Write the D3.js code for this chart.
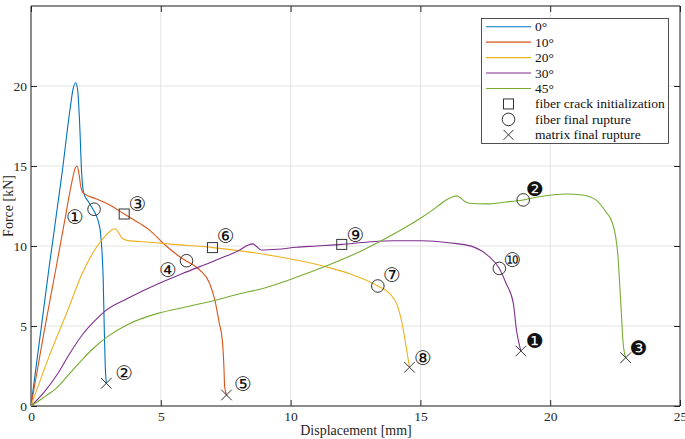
<!DOCTYPE html>
<html><head><meta charset="utf-8">
<script src="https://cdn.jsdelivr.net/npm/d3@7"></script>
<style>body{margin:0;background:#fff}svg{display:block}</style>
</head><body><svg id="c" width="685" height="439"></svg>
<script>
const seriesNames = ["0°","10°","20°","30°","45°"];
const seriesColors = ["#0072BD","#D95319","#EDB120","#7E2F8E","#77AC30"];
const s0 = [[0,0],[0.7,8.7],[1.2,14.6],[1.5,18.5],[1.62,19.8],[1.72,20.2],[1.8,19.7],[1.87,17.8],[1.95,14.6],[2.03,13.3],[2.2,12.8],[2.35,12.4],[2.5,11.95],[2.6,11.5],[2.68,10.8],[2.74,9.5],[2.78,8.0],[2.82,5.0],[2.86,2.5],[2.9,1.42]];
const s10 = [[0,0],[0.5,4.6],[0.95,8.5],[1.3,11.6],[1.55,13.8],[1.7,14.85],[1.77,15.0],[1.84,14.6],[1.92,13.7],[2.02,13.3],[2.5,12.95],[3.0,12.6],[3.59,12.0],[4.2,11.4],[4.6,10.95],[5.09,10.17],[5.73,9.33],[6.0,9.05],[6.5,8.5],[6.88,7.67],[7.08,6.63],[7.25,5.2],[7.37,4.1],[7.43,2.5],[7.46,1.2],[7.53,0.69]];
const s20 = [[0,0],[0.65,2.9],[1.42,6.0],[1.95,8.2],[2.45,9.75],[2.9,10.7],[3.12,11.02],[3.24,11.08],[3.35,10.9],[3.5,10.5],[3.7,10.35],[4.58,10.23],[5.5,10.1],[7.0,9.9],[8.5,9.6],[9.96,9.2],[11.37,8.7],[12.3,8.25],[13.36,7.5],[13.81,7.04],[14.13,6.21],[14.32,4.96],[14.45,3.71],[14.58,2.42]];
const s30 = [[0,0],[0.5,0.85],[1.0,1.95],[1.5,3.3],[2.0,4.5],[2.5,5.4],[2.83,5.9],[3.73,6.73],[4.88,7.63],[5.86,8.29],[7.14,9.13],[8.04,9.75],[8.35,10.05],[8.55,10.13],[8.7,9.95],[8.87,9.75],[9.5,9.8],[10.22,9.92],[11.0,10.0],[11.97,10.1],[13,10.25],[14,10.33],[15,10.33],[15.74,10.27],[16.4,10.15],[17.01,9.96],[17.35,9.7],[17.65,9.33],[18.04,8.6],[18.3,7.67],[18.58,6.42],[18.7,4.75],[18.8,3.9],[18.87,3.44]];
const s45 = [[0,0],[0.5,0.55],[1.0,1.15],[1.5,2.05],[2.0,2.95],[2.5,3.75],[3.0,4.4],[3.73,5.1],[4.88,5.79],[6.0,6.2],[7.14,6.63],[8.0,7.0],[9.0,7.38],[9.58,7.67],[10.4,8.15],[11.37,8.75],[12.4,9.45],[13.42,10.27],[14.3,11.05],[15.09,11.83],[15.6,12.4],[15.99,12.88],[16.25,13.08],[16.4,13.13],[16.55,13.0],[16.7,12.8],[16.88,12.67],[17.53,12.63],[18.3,12.75],[18.96,12.88],[19.58,13.08],[20.6,13.25],[21.24,13.19],[21.76,12.88],[22.14,12.14],[22.4,11.42],[22.6,9.54],[22.72,6.42],[22.81,3.92],[22.91,3.02]];
const seriesData = [s0,s10,s20,s30,s45];
const squares = [[3.59,12.0],[6.99,9.9],[11.97,10.1]];
const circles = [[2.43,12.3],[5.99,9.08],[13.36,7.5],[18.04,8.6],[18.96,12.88]];
const crosses = [[2.9,1.42],[7.53,0.69],[14.58,2.42],[18.87,3.44],[22.91,3.02]];
const noteLabels = ["①","②","③","④","⑤","⑥","⑦","⑧","⑨","⑩","❶","❷","❸"];
const notePos = [[1.69,11.8],[3.59,2.04],[4.1,12.6],[5.28,8.5],[8.17,1.35],[7.5,10.6],[13.9,8.2],[15.1,3.0],[12.5,10.7],[18.55,9.1],[19.4,4.07],[19.41,13.56],[23.4,3.64]];
const xTicks = [0,5,10,15,20,25];
const yTicks = [0,5,10,15,20];
const legendMarkers = ["fiber crack initialization","fiber final rupture","matrix final rupture"];

const SERIF = '"Liberation Serif", "Times New Roman", serif';
const svg = d3.select("#c");
const x = d3.scaleLinear().domain([0,25]).range([31,680]);
const y = d3.scaleLinear().domain([0,25]).range([406,6]);

// grid
svg.append("g").selectAll("line").data(xTicks).join("line")
  .attr("x1",d=>x(d)).attr("x2",d=>x(d)).attr("y1",y(0)).attr("y2",y(25))
  .attr("stroke","#e3e3e3").attr("stroke-width",1);
svg.append("g").selectAll("line").data(yTicks.concat([25])).join("line")
  .attr("y1",d=>y(d)).attr("y2",d=>y(d)).attr("x1",x(0)).attr("x2",x(25))
  .attr("stroke","#e3e3e3").attr("stroke-width",1);

// axes
const tl = 6;
const gx = svg.append("g").attr("transform",`translate(0,${y(0)})`)
  .call(d3.axisBottom(x).tickValues(xTicks).tickSizeInner(-tl).tickSizeOuter(0).tickPadding(5));
const gy = svg.append("g").attr("transform",`translate(${x(0)},0)`)
  .call(d3.axisLeft(y).tickValues(yTicks).tickSizeInner(-tl).tickSizeOuter(0).tickPadding(4));
const gxt = svg.append("g").attr("transform",`translate(0,${y(25)})`)
  .call(d3.axisTop(x).tickValues(xTicks).tickSizeInner(-tl).tickSizeOuter(0).tickFormat(""));
const gyr = svg.append("g").attr("transform",`translate(${x(25)},0)`)
  .call(d3.axisRight(y).tickValues(yTicks).tickSizeInner(-tl).tickSizeOuter(0).tickFormat(""));
[gx,gy,gxt,gyr].forEach(g=>{
  g.attr("font-family",null).attr("font-size",null);
  g.select(".domain").attr("stroke","#262626").attr("stroke-width",1);
  g.selectAll(".tick line").attr("stroke","#262626");
  g.selectAll("text").style("font-family",SERIF).style("font-size","13.5px").attr("fill","#262626");
});
gx.select(".domain").attr("d",`M${x(0)},0H${x(25)}`);
gy.select(".domain").attr("d",`M0,${y(0)}V${y(25)}`);
gxt.select(".domain").attr("d",`M${x(0)},0H${x(25)}`);
gyr.select(".domain").attr("d",`M0,${y(0)}V${y(25)}`);

// axis labels
svg.append("text").attr("x",356).attr("y",435).attr("text-anchor","middle")
  .style("font-family",SERIF).style("font-size","14px").attr("fill","#262626").text("Displacement [mm]");
svg.append("text").attr("transform",`translate(13,${y(12.5)}) rotate(-90)`).attr("text-anchor","middle")
  .style("font-family",SERIF).style("font-size","14px").attr("fill","#262626").text("Force [kN]");

// lines
const line = d3.line().x(d=>x(d[0])).y(d=>y(d[1])).curve(d3.curveMonotoneX);
svg.append("g").selectAll("path").data(seriesData).join("path")
  .attr("d",d=>line(d)).attr("fill","none")
  .attr("stroke",(d,i)=>seriesColors[i]).attr("stroke-width",1.1);

// markers
const mk = "#333";
svg.append("g").selectAll("rect").data(squares).join("rect")
  .attr("x",d=>x(d[0])-5).attr("y",d=>y(d[1])-5).attr("width",10).attr("height",10)
  .attr("fill","none").attr("stroke",mk).attr("stroke-width",1);
svg.append("g").selectAll("circle").data(circles).join("circle")
  .attr("cx",d=>x(d[0])).attr("cy",d=>y(d[1])).attr("r",6.3)
  .attr("fill","none").attr("stroke",mk).attr("stroke-width",1);
svg.append("g").selectAll("path").data(crosses).join("path")
  .attr("d",d=>{const cx=x(d[0]),cy=y(d[1]),r=5.3;return `M${cx-r},${cy-r}L${cx+r},${cy+r}M${cx-r},${cy+r}L${cx+r},${cy-r}`;})
  .attr("stroke",mk).attr("stroke-width",1).attr("fill","none");

// annotations
svg.append("g").selectAll("text").data(noteLabels).join("text")
  .attr("x",(d,i)=>x(notePos[i][0])).attr("y",(d,i)=>y(notePos[i][1]))
  .attr("text-anchor","middle").attr("dominant-baseline","central")
  .style("font-family","'DejaVu Sans', sans-serif").style("font-size","20px").attr("fill","#111")
  .text(d=>d);

// legend
const lg = svg.append("g");
lg.append("rect").attr("x",481.5).attr("y",18.5).attr("width",187).attr("height",125)
  .attr("fill","#fff").attr("stroke","#262626").attr("stroke-width",0.8);
const rowY = i=>26.7+i*15.45;
seriesNames.forEach((n,i)=>{
  lg.append("line").attr("x1",486).attr("x2",531).attr("y1",rowY(i)).attr("y2",rowY(i))
    .attr("stroke",seriesColors[i]).attr("stroke-width",1.1);
  lg.append("text").attr("x",535).attr("y",rowY(i)).attr("dominant-baseline","central")
    .style("font-family",SERIF).style("font-size","13.5px").attr("fill","#111").text(n);
});
legendMarkers.forEach((n,j)=>{
  const i=j+5, cy=rowY(i), cx=508.5;
  if(j===0) lg.append("rect").attr("x",cx-5).attr("y",cy-5).attr("width",10).attr("height",10).attr("fill","none").attr("stroke",mk);
  if(j===1) lg.append("circle").attr("cx",cx).attr("cy",cy).attr("r",6.3).attr("fill","none").attr("stroke",mk);
  if(j===2) lg.append("path").attr("d",`M${cx-5},${cy-5}L${cx+5},${cy+5}M${cx-5},${cy+5}L${cx+5},${cy-5}`).attr("stroke",mk);
  lg.append("text").attr("x",535).attr("y",cy).attr("dominant-baseline","central")
    .style("font-family",SERIF).style("font-size","13.5px").attr("fill","#111").text(n);
});
</script></body></html>
